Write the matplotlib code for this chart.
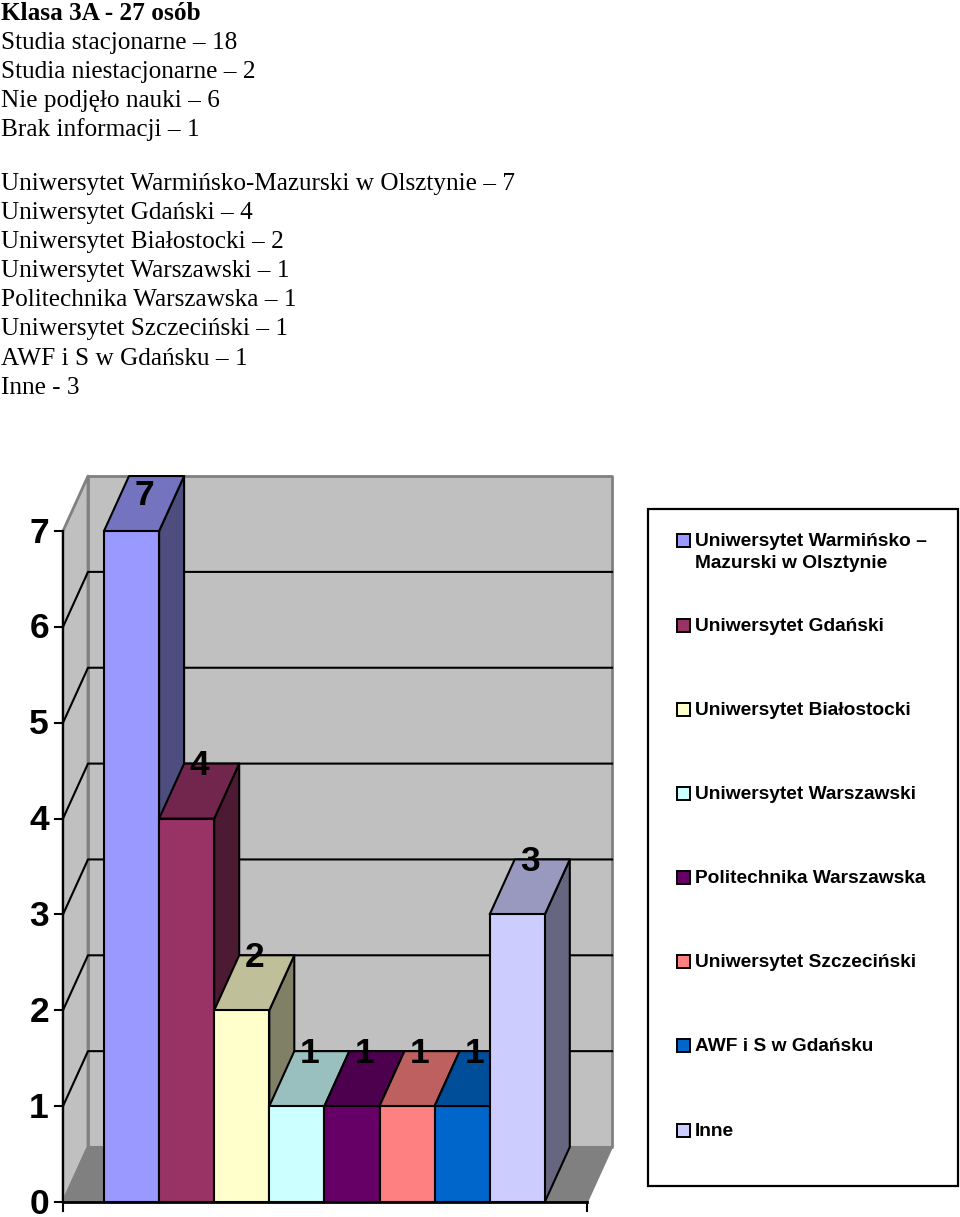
import matplotlib
matplotlib.use('Agg')
import matplotlib.pyplot as plt
from matplotlib.colors import to_rgb
from matplotlib.patches import Polygon, Rectangle

W, H = 960, 1217

header_lines = ['Studia stacjonarne – 18', 'Studia niestacjonarne – 2',
                'Nie podjęło nauki – 6', 'Brak informacji – 1']
uni_lines = ['Uniwersytet Warmińsko-Mazurski w Olsztynie – 7', 'Uniwersytet Gdański – 4',
             'Uniwersytet Białostocki – 2', 'Uniwersytet Warszawski – 1',
             'Politechnika Warszawska – 1', 'Uniwersytet Szczeciński – 1',
             'AWF i S w Gdańsku – 1', 'Inne - 3']

values = [7, 4, 2, 1, 1, 1, 1, 3]
colors = ['#9999FF', '#993366', '#FFFFCC', '#CCFFFF', '#660066', '#FF8080', '#0066CC', '#CCCCFF']
legend_labels = ['Uniwersytet Warmińsko –\nMazurski w Olsztynie', 'Uniwersytet Gdański',
                 'Uniwersytet Białostocki', 'Uniwersytet Warszawski', 'Politechnika Warszawska',
                 'Uniwersytet Szczeciński', 'AWF i S w Gdańsku', 'Inne']
legend_y = [540, 625, 709, 793, 877, 961, 1045, 1130]

# one unit on x is a bar slot, one unit on y is one person
X0, SLOT = 104, 55.1
Y0, UNIT = 1202, 95.85
DX = 25 / SLOT
DY = 55 / UNIT
LEFT = (63 - X0) / SLOT
RIGHT = (587 - X0) / SLOT
TOP = max(values)

fig = plt.figure(figsize=(W / 100, H / 100), dpi=100)
ax = fig.add_axes([0, 0, 1, 1])
ax.set_xlim(-X0 / SLOT, (W - X0) / SLOT)
ax.set_ylim((Y0 - H) / UNIT, Y0 / UNIT)
ax.axis('off')


def shade(color, k):
    return tuple(c * k for c in to_rgb(color))


def poly(points, face, edge='black', lw=1.5, z=2):
    ax.add_patch(Polygon(points, closed=True, facecolor=face, edgecolor=edge, linewidth=lw,
                         zorder=z, joinstyle='round'))


# walls and floor
poly([(LEFT, 0), (LEFT + DX, DY), (LEFT + DX, TOP + DY), (LEFT, TOP)], '#C0C0C0', '#808080', lw=2)
poly([(LEFT + DX, DY), (RIGHT + DX, DY), (RIGHT + DX, TOP + DY), (LEFT + DX, TOP + DY)],
     '#C0C0C0', '#808080', lw=2)
poly([(LEFT, 0), (LEFT + DX, DY), (RIGHT + DX, DY), (RIGHT, 0)], '#808080', '#808080')

# gridlines on back and side wall
for level in range(1, TOP):
    ax.plot([LEFT, LEFT + DX, RIGHT + DX], [level, level + DY, level + DY],
            color='black', lw=1.5, zorder=2.5)

# bars, left to right so that each front covers the previous side
for i, (val, col) in enumerate(zip(values, colors)):
    z = 3 + i * 0.1
    poly([(i + 1, 0), (i + 1 + DX, DY), (i + 1 + DX, val + DY), (i + 1, val)], shade(col, 0.5), z=z)
    poly([(i, val), (i + DX, val + DY), (i + 1 + DX, val + DY), (i + 1, val)], shade(col, 0.75), z=z)
    ax.bar(i, val, width=1, align='edge', color=col, edgecolor='black', linewidth=1.5, zorder=z + 0.01)
    # the label sits on the back edge of the top face, pushed down at the chart's ceiling
    label_y = min(val + DY - 2 / UNIT, TOP + DY - 19 / UNIT)
    ax.text(i + 0.5 + DX / 2, label_y, str(val), ha='center', va='center', fontsize=25.5,
            fontweight='bold', family='Liberation Sans', color='black', zorder=10)

# axis lines and ticks
ax.plot([LEFT, LEFT], [0, TOP], color='black', lw=1.5, zorder=6)
ax.plot([LEFT, RIGHT], [0, 0], color='black', lw=2, zorder=6)
for level in range(TOP + 1):
    ax.plot([LEFT - 8 / SLOT, LEFT], [level, level], color='black', lw=1.5, zorder=6)
    ax.text(LEFT - 14 / SLOT, level - 2 / UNIT, str(level), ha='right', va='center', fontsize=25.5,
            fontweight='bold', family='Liberation Sans', zorder=6)
for xt in (LEFT, RIGHT):
    ax.plot([xt, xt], [0, -9 / UNIT], color='black', lw=1.5, zorder=6)


def px_text(x, y, s, **kw):
    fig.text(x / W, 1 - y / H, s, **kw)


# text above the chart
serif = dict(family='Liberation Serif', fontsize=18.2, va='center', ha='left', color='black')
px_text(1, 14, 'Klasa 3A - 27 osób', fontweight='bold', **serif)
for n, line in enumerate(header_lines):
    px_text(1, 43 + n * 29, line, **serif)
for n, line in enumerate(uni_lines):
    px_text(1, 184 + n * 29.1, line, **serif)

# legend box
fig.add_artist(Rectangle((648 / W, 1 - 1186 / H), 310 / W, 677 / H, transform=fig.transFigure,
                         facecolor='white', edgecolor='black', linewidth=1.6))
for label, col, ly in zip(legend_labels, colors, legend_y):
    fig.add_artist(Rectangle((677 / W, 1 - (ly + 6.5) / H), 13 / W, 13 / H, transform=fig.transFigure,
                             facecolor=col, edgecolor='black', linewidth=1.4))
    px_text(695, ly - 7, label, family='Liberation Sans', fontweight='bold', fontsize=13.75,
            va='top', ha='left', linespacing=1.4)

fig.savefig('out.png', dpi=100)
